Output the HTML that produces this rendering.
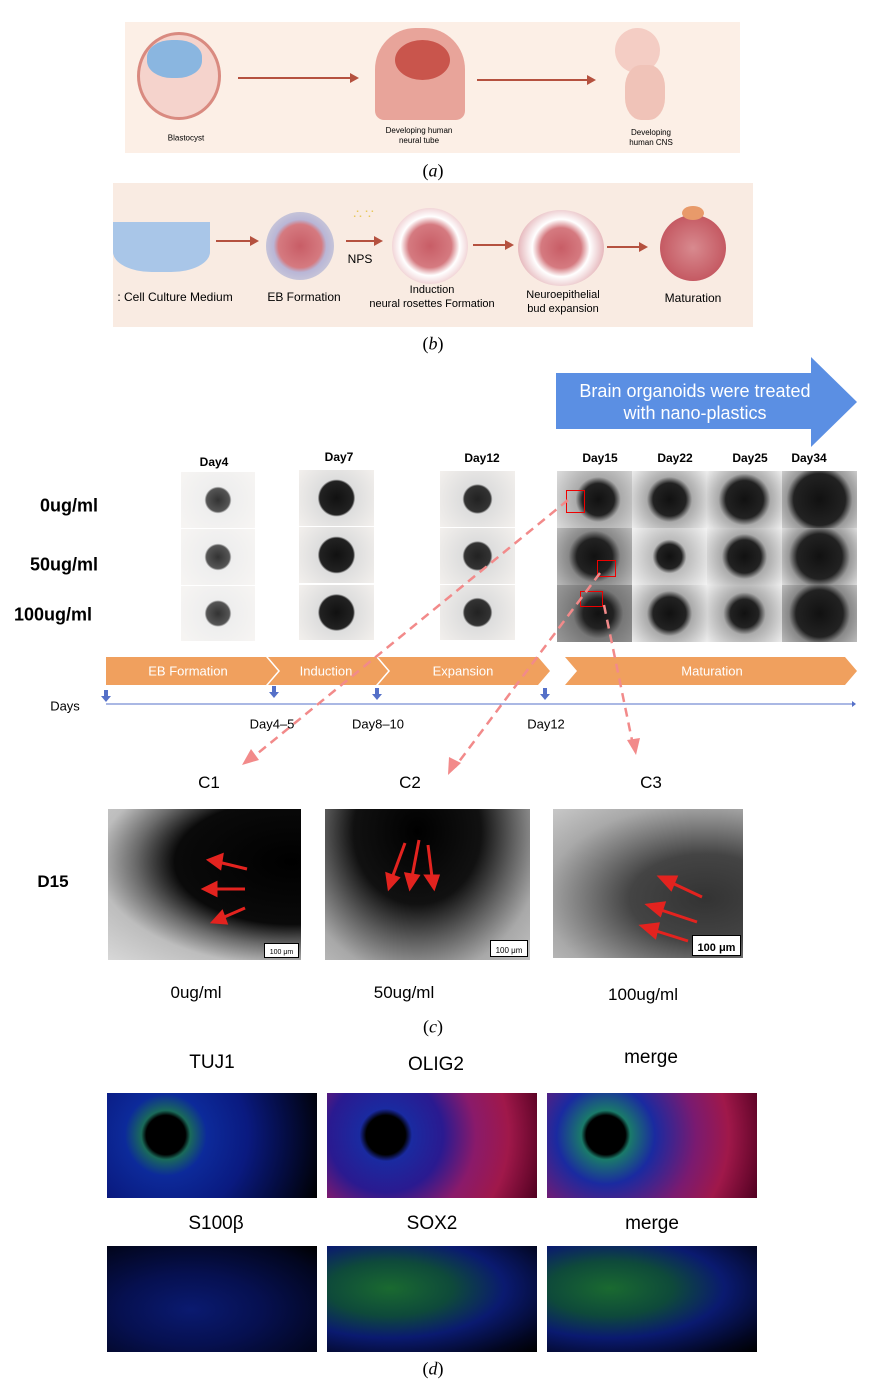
<!DOCTYPE html>
<html><head><meta charset="utf-8"><style>
body{margin:0;background:#fff;width:896px;height:1392px;position:relative;overflow:hidden;font-family:"Liberation Sans",sans-serif}
.a{position:absolute}
.t{position:absolute;white-space:nowrap;transform:translate(-50%,-50%)}
.lab{font-family:"Liberation Serif",serif;font-size:18px}
.bf{background:radial-gradient(circle at 50% 50%,#1c1c1c 0,#2a2a2a 30%,#cfcfcf 33%,#e6e3e0 60%,#f2efec 100%)}
.dk{background:radial-gradient(circle at 55% 50%,#111 0,#222 45%,#555 60%,#9a9a9a 80%,#b8b8b8 100%)}
.sb{position:absolute;right:4px;bottom:4px;width:6px;height:5px;border-top:1px solid #000}
.fl{background:radial-gradient(circle at 25% 40%,#000 0,#000 12%,#0a2a8a 16%,#0a1a70 40%,#04082a 80%,#000 100%)}
</style></head><body>

<!-- (a) -->
<div class="a" style="left:125px;top:22px;width:615px;height:131px;background:#fcefe6"></div>
<div class="a" style="left:137px;top:32px;width:84px;height:88px;border-radius:50%;background:#f5d3cc;border:3px solid #d98a80;box-sizing:border-box"></div>
<div class="a" style="left:147px;top:40px;width:55px;height:38px;border-radius:45%;background:#8ab6e0"></div>
<div class="a" style="left:238px;top:77px;width:115px;height:2px;background:#b5513f"></div>
<div class="a" style="left:350px;top:73px;border-left:9px solid #b5513f;border-top:5px solid transparent;border-bottom:5px solid transparent"></div>
<div class="a" style="left:375px;top:28px;width:90px;height:92px;border-radius:45% 45% 10% 10%;background:#e8a49a"></div>
<div class="a" style="left:395px;top:40px;width:55px;height:40px;border-radius:50%;background:#c9554c"></div>
<div class="a" style="left:477px;top:79px;width:112px;height:2px;background:#b5513f"></div>
<div class="a" style="left:587px;top:75px;border-left:9px solid #b5513f;border-top:5px solid transparent;border-bottom:5px solid transparent"></div>
<div class="a" style="left:615px;top:28px;width:45px;height:45px;border-radius:50%;background:#f4cdc4"></div>
<div class="a" style="left:625px;top:65px;width:40px;height:55px;border-radius:40%;background:#f0c3b8"></div>
<div class="t" style="left:186px;top:138px;font-size:8px">Blastocyst</div>
<div class="t" style="left:419px;top:136px;font-size:8px;text-align:center;line-height:10px">Developing human<br>neural tube</div>
<div class="t" style="left:651px;top:138px;font-size:8px;text-align:center;line-height:10px">Developing<br>human CNS</div>
<div class="t lab" style="left:433px;top:171px">(<i>a</i>)</div>

<!-- (b) -->
<div class="a" style="left:113px;top:183px;width:640px;height:144px;background:#f9ebe2"></div>
<div class="a" style="left:113px;top:222px;width:97px;height:50px;border-radius:0 0 40% 40%;background:#a9c6e8"></div>
<div class="a" style="left:266px;top:212px;width:68px;height:68px;border-radius:50%;background:radial-gradient(circle,#c85d66 0,#d57a80 45%,#b9b6d6 55%,#ddd 100%)"></div>
<div class="a" style="left:392px;top:208px;width:76px;height:76px;border-radius:50%;background:radial-gradient(circle,#c85d66 0,#d57a80 40%,#fff 55%,#d9888f 100%)"></div>
<div class="a" style="left:518px;top:210px;width:86px;height:76px;border-radius:50%;background:radial-gradient(circle,#c85d66 0,#d57a80 35%,#fff 50%,#cc6f78 100%)"></div>
<div class="a" style="left:660px;top:215px;width:66px;height:66px;border-radius:50%;background:radial-gradient(circle,#d88a8f 0,#c55a63 70%,#a84952 100%)"></div>
<div class="a" style="left:682px;top:206px;width:22px;height:14px;border-radius:50%;background:#e89a6a"></div>
<div class="a" style="left:216px;top:240px;width:36px;height:2px;background:#b5513f"></div>
<div class="a" style="left:250px;top:236px;border-left:9px solid #b5513f;border-top:5px solid transparent;border-bottom:5px solid transparent"></div>
<div class="a" style="left:346px;top:240px;width:30px;height:2px;background:#b5513f"></div>
<div class="a" style="left:374px;top:236px;border-left:9px solid #b5513f;border-top:5px solid transparent;border-bottom:5px solid transparent"></div>
<div class="a" style="left:473px;top:244px;width:34px;height:2px;background:#b5513f"></div>
<div class="a" style="left:505px;top:240px;border-left:9px solid #b5513f;border-top:5px solid transparent;border-bottom:5px solid transparent"></div>
<div class="a" style="left:607px;top:246px;width:34px;height:2px;background:#b5513f"></div>
<div class="a" style="left:639px;top:242px;border-left:9px solid #b5513f;border-top:5px solid transparent;border-bottom:5px solid transparent"></div>
<div class="t" style="left:365px;top:214px;font-size:14px;color:#e8c85a;letter-spacing:3px">∴∵</div>
<div class="t" style="left:360px;top:259px;font-size:12px">NPS</div>
<div class="t" style="left:175px;top:297px;font-size:12px">: Cell Culture Medium</div>
<div class="t" style="left:304px;top:297px;font-size:12px">EB Formation</div>
<div class="t" style="left:432px;top:297px;font-size:11px;text-align:center;line-height:14px">Induction<br>neural rosettes Formation</div>
<div class="t" style="left:563px;top:302px;font-size:11px;text-align:center;line-height:14px">Neuroepithelial<br>bud expansion</div>
<div class="t" style="left:693px;top:298px;font-size:12px">Maturation</div>
<div class="t lab" style="left:433px;top:344px">(<i>b</i>)</div>

<!-- (c) top -->
<div class="a" style="left:556px;top:373px;width:256px;height:56px;background:#5b8fe3"></div>
<div class="a" style="left:811px;top:357px;border-left:46px solid #5b8fe3;border-top:45px solid transparent;border-bottom:45px solid transparent"></div>
<div class="t" style="left:695px;top:402px;color:#fff;font-size:18px;text-align:center;line-height:22px">Brain organoids were treated<br>with nano-plastics</div>

<div class="t" style="left:214px;top:462px;font-size:12px;font-weight:bold">Day4</div>
<div class="t" style="left:339px;top:457px;font-size:12px;font-weight:bold">Day7</div>
<div class="t" style="left:482px;top:458px;font-size:12px;font-weight:bold">Day12</div>
<div class="t" style="left:600px;top:458px;font-size:12px;font-weight:bold">Day15</div>
<div class="t" style="left:675px;top:458px;font-size:12px;font-weight:bold">Day22</div>
<div class="t" style="left:750px;top:458px;font-size:12px;font-weight:bold">Day25</div>
<div class="t" style="left:809px;top:458px;font-size:12px;font-weight:bold">Day34</div>
<div class="t" style="left:69px;top:506px;font-size:18px;font-weight:bold">0ug/ml</div>
<div class="t" style="left:64px;top:565px;font-size:18px;font-weight:bold">50ug/ml</div>
<div class="t" style="left:53px;top:615px;font-size:18px;font-weight:bold">100ug/ml</div>

<div class="a bf" style="left:181px;top:472px;width:74px;height:56px;background:radial-gradient(circle at 50% 50%,#333 0,#555 25%,#eee 29%,#f7f5f3 100%)"></div>
<div class="a bf" style="left:181px;top:529px;width:74px;height:56px;background:radial-gradient(circle at 50% 50%,#333 0,#555 25%,#eee 29%,#f7f5f3 100%)"></div>
<div class="a bf" style="left:181px;top:586px;width:74px;height:55px;background:radial-gradient(circle at 50% 50%,#333 0,#555 25%,#eee 29%,#f7f5f3 100%)"></div>
<div class="a bf" style="left:299px;top:470px;width:75px;height:56px;background:radial-gradient(circle at 50% 50%,#111 0,#222 36%,#ddd 40%,#f3f0ed 100%)"></div>
<div class="a bf" style="left:299px;top:527px;width:75px;height:56px;background:radial-gradient(circle at 50% 50%,#111 0,#222 36%,#ddd 40%,#f3f0ed 100%)"></div>
<div class="a bf" style="left:299px;top:585px;width:75px;height:55px;background:radial-gradient(circle at 50% 50%,#111 0,#222 36%,#ddd 40%,#f3f0ed 100%)"></div>
<div class="a bf" style="left:440px;top:471px;width:75px;height:56px;background:radial-gradient(circle at 50% 50%,#222 0,#333 28%,#ddd 32%,#f3f0ed 100%)"></div>
<div class="a bf" style="left:440px;top:528px;width:75px;height:56px;background:radial-gradient(circle at 50% 50%,#222 0,#333 28%,#ddd 32%,#f3f0ed 100%)"></div>
<div class="a bf" style="left:440px;top:585px;width:75px;height:55px;background:radial-gradient(circle at 50% 50%,#222 0,#333 28%,#ddd 32%,#f3f0ed 100%)"></div>

<div class="a" style="left:557px;top:471px;width:300px;height:171px;display:grid;grid-template-columns:75px 75px 75px 75px;grid-template-rows:57px 57px 57px">
<div style="background:radial-gradient(circle at 55% 50%,#111 0,#222 32%,#aaa 45%,#ddd 100%)"></div>
<div style="background:radial-gradient(circle at 50% 50%,#111 0,#222 35%,#aaa 48%,#eee 100%)"></div>
<div style="background:radial-gradient(circle at 50% 50%,#111 0,#222 40%,#aaa 55%,#eee 100%)"></div>
<div style="background:radial-gradient(circle at 50% 50%,#111 0,#222 55%,#999 70%,#ccc 100%)"></div>
<div style="background:radial-gradient(circle at 50% 50%,#111 0,#222 38%,#888 55%,#bbb 100%)"></div>
<div style="background:radial-gradient(circle at 50% 50%,#111 0,#222 26%,#bbb 36%,#f3f3f3 100%)"></div>
<div style="background:radial-gradient(circle at 50% 50%,#111 0,#222 35%,#aaa 48%,#eee 100%)"></div>
<div style="background:radial-gradient(circle at 50% 50%,#111 0,#222 48%,#999 65%,#ddd 100%)"></div>
<div style="background:radial-gradient(circle at 55% 50%,#111 0,#222 30%,#777 50%,#999 100%)"></div>
<div style="background:radial-gradient(circle at 50% 50%,#111 0,#222 35%,#aaa 48%,#eee 100%)"></div>
<div style="background:radial-gradient(circle at 50% 50%,#111 0,#222 30%,#aaa 45%,#eee 100%)"></div>
<div style="background:radial-gradient(circle at 50% 50%,#111 0,#222 50%,#888 65%,#bbb 100%)"></div>
</div>
<div class="a" style="left:566px;top:490px;width:17px;height:21px;border:1.5px solid #e00"></div>
<div class="a" style="left:597px;top:560px;width:17px;height:15px;border:1.5px solid #e00"></div>
<div class="a" style="left:580px;top:591px;width:21px;height:14px;border:1.5px solid #e00"></div>

<!-- orange bar -->
<svg class="a" style="left:0;top:0" width="896" height="1392">
<polygon points="106,657 266,657 278,671 266,685 106,685" fill="#f0a05e"/>
<polygon points="268,657 376,657 388,671 376,685 268,685 280,671" fill="#f0a05e"/>
<polygon points="378,657 538,657 550,671 538,685 378,685 390,671" fill="#f0a05e"/>
<polygon points="565,657 845,657 857,671 845,685 565,685 577,671" fill="#f0a05e"/>
<line x1="106" y1="704" x2="852" y2="704" stroke="#5570c8" stroke-width="1"/>
<polygon points="852,701 856,704 852,707" fill="#5570c8"/>
<g fill="#5570c8">
<rect x="104" y="690" width="4" height="6"/><polygon points="101,696 111,696 106,702"/>
<rect x="272" y="686" width="4" height="6"/><polygon points="269,692 279,692 274,698"/>
<rect x="375" y="688" width="4" height="6"/><polygon points="372,694 382,694 377,700"/>
<rect x="543" y="688" width="4" height="6"/><polygon points="540,694 550,694 545,700"/>
</g>
<g stroke="#f28a8a" stroke-width="2.5" stroke-dasharray="9,6" fill="none">
<line x1="568" y1="500" x2="252" y2="758"/>
<line x1="600" y1="573" x2="455" y2="767"/>
<line x1="604" y1="605" x2="633" y2="745"/>
</g>
<g fill="#f28a8a">
<polygon points="242,765 251,749 259,760"/>
<polygon points="448,775 449,757 461,763"/>
<polygon points="636,755 627,740 640,738"/>
</g>
<!-- C panels arrows -->
<g stroke="#e3231f" stroke-width="3" fill="#e3231f">
<line x1="247" y1="869" x2="218" y2="862"/><polygon points="209,860 222,855 220,868"/>
<line x1="245" y1="889" x2="213" y2="889"/><polygon points="204,889 216,883 216,895"/>
<line x1="245" y1="908" x2="222" y2="918"/><polygon points="213,922 222,912 226,923"/>
<line x1="405" y1="843" x2="392" y2="878"/><polygon points="389,888 387,874 398,878"/>
<line x1="419" y1="840" x2="412" y2="877"/><polygon points="410,888 406,874 418,876"/>
<line x1="428" y1="845" x2="432" y2="877"/><polygon points="434,888 426,876 438,876"/>
<line x1="702" y1="897" x2="670" y2="882"/><polygon points="660,877 676,877 671,889"/>
<line x1="697" y1="922" x2="658" y2="909"/><polygon points="648,905 664,903 660,915"/>
<line x1="688" y1="941" x2="653" y2="930"/><polygon points="642,926 658,924 655,937"/>
</g>
</svg>
<div class="t" style="left:188px;top:671px;color:#fff;font-size:13px">EB Formation</div>
<div class="t" style="left:326px;top:671px;color:#fff;font-size:13px">Induction</div>
<div class="t" style="left:463px;top:671px;color:#fff;font-size:13px">Expansion</div>
<div class="t" style="left:712px;top:671px;color:#fff;font-size:13px">Maturation</div>
<div class="t" style="left:65px;top:706px;font-size:13px">Days</div>
<div class="t" style="left:272px;top:724px;font-size:13px">Day4–5</div>
<div class="t" style="left:378px;top:724px;font-size:13px">Day8–10</div>
<div class="t" style="left:546px;top:724px;font-size:13px">Day12</div>

<div class="t" style="left:209px;top:783px;font-size:17px">C1</div>
<div class="t" style="left:410px;top:783px;font-size:17px">C2</div>
<div class="t" style="left:651px;top:783px;font-size:17px">C3</div>
<div class="t" style="left:53px;top:882px;font-size:17px;font-weight:bold">D15</div>

<div class="a" style="left:108px;top:809px;width:193px;height:151px;background:radial-gradient(ellipse at 95% 35%,#000 0,#0a0a0a 45%,#6a6a6a 60%,#bdbdbd 75%,#d8d8d8 100%);z-index:-1"></div>
<div class="a" style="left:325px;top:809px;width:205px;height:151px;background:radial-gradient(ellipse at 45% 15%,#000 0,#111 40%,#5e5e5e 60%,#a8a8a8 80%,#c0c0c0 100%);z-index:-1"></div>
<div class="a" style="left:553px;top:809px;width:190px;height:149px;background:radial-gradient(ellipse at 80% 60%,#333 0,#444 35%,#777 55%,#a9a9a9 75%,#c8c8c8 100%);z-index:-1"></div>
<div class="a" style="left:264px;top:943px;width:33px;height:13px;background:#fff;border:1px solid #000;font-size:7px;text-align:center;line-height:18px">100 μm</div>
<div class="a" style="left:490px;top:940px;width:36px;height:15px;background:#fff;border:1px solid #000;font-size:8px;text-align:center;line-height:20px">100 μm</div>
<div class="a" style="left:692px;top:935px;width:47px;height:19px;background:#fff;border:1px solid #000;font-size:11px;font-weight:bold;text-align:center;line-height:24px">100 μm</div>

<div class="t" style="left:196px;top:993px;font-size:17px">0ug/ml</div>
<div class="t" style="left:404px;top:993px;font-size:17px">50ug/ml</div>
<div class="t" style="left:643px;top:995px;font-size:17px">100ug/ml</div>
<div class="t lab" style="left:433px;top:1027px">(<i>c</i>)</div>

<!-- (d) -->
<div class="t" style="left:212px;top:1063px;font-size:19px">TUJ1</div>
<div class="t" style="left:436px;top:1065px;font-size:19px">OLIG2</div>
<div class="t" style="left:651px;top:1058px;font-size:19px">merge</div>
<div class="a" style="left:107px;top:1093px;width:210px;height:105px;background:radial-gradient(circle at 28% 40%,#000 0,#000 12%,#1a6a5a 15%,#0c2a9a 25%,#0a1a80 50%,#040c40 75%,#000 100%)"></div>
<div class="a" style="left:327px;top:1093px;width:210px;height:105px;background:radial-gradient(circle at 28% 40%,#000 0,#000 12%,#1a2aa0 16%,#2a1a90 35%,#8a1a6a 55%,#a0184a 75%,#500020 100%)"></div>
<div class="a" style="left:547px;top:1093px;width:210px;height:105px;background:radial-gradient(circle at 28% 40%,#000 0,#000 12%,#1a7a6a 15%,#1a2aa0 30%,#7a1a70 55%,#a0184a 75%,#500020 100%)"></div>
<div class="t" style="left:216px;top:1224px;font-size:19px">S100β</div>
<div class="t" style="left:432px;top:1224px;font-size:19px">SOX2</div>
<div class="t" style="left:652px;top:1224px;font-size:19px">merge</div>
<div class="a" style="left:107px;top:1246px;width:210px;height:106px;background:radial-gradient(ellipse at 40% 60%,#0a1a70 0,#061050 40%,#020620 80%,#000 100%)"></div>
<div class="a" style="left:327px;top:1246px;width:210px;height:106px;background:radial-gradient(ellipse at 30% 40%,#1a6a30 0,#0e4a3a 30%,#0a1a70 55%,#020620 85%,#000 100%)"></div>
<div class="a" style="left:547px;top:1246px;width:210px;height:106px;background:radial-gradient(ellipse at 30% 40%,#1a6a30 0,#0e4a3a 30%,#0a1a70 55%,#020620 85%,#000 100%)"></div>
<div class="t lab" style="left:433px;top:1369px">(<i>d</i>)</div>
</body></html>
